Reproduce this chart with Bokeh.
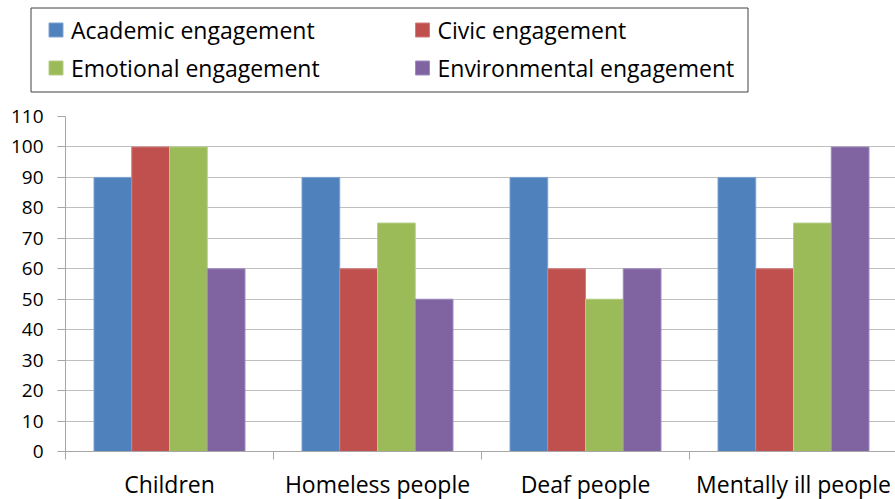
from bokeh.plotting import figure
from bokeh.models import Range1d, FixedTicker, ColumnDataSource
from bokeh.core.properties import value
from bokeh.embed import file_html
from bokeh.resources import INLINE

categories = ["Children", "Homeless people", "Deaf people", "Mentally ill people"]
series_names = ["Academic engagement", "Civic engagement",
                "Emotional engagement", "Environmental engagement"]
academic = [90, 90, 90, 90]
civic = [100, 60, 60, 60]
emotional = [100, 75, 50, 75]
environmental = [60, 50, 60, 100]
y_ticks = [0, 10, 20, 30, 40, 50, 60, 70, 80, 90, 100, 110]

colors = ["#4F81BD", "#C0504D", "#9BBB59", "#8064A2"]
edge_colors = ["#7FA3D3", "#D07F7C", "#B6CE86", "#A08BBE"]
FONT = "Open Sans"

W = 895
LEG_H = 100
MAIN_H = 366
LAB_H = 33

# ---------------- legend figure ----------------
leg = figure(width=W, height=LEG_H, output_backend="svg", toolbar_location=None,
             x_range=Range1d(0, W), y_range=Range1d(LEG_H, 0),
             min_border=0, outline_line_color=None)
leg.axis.visible = False
leg.grid.visible = False
leg.quad(left=[30.5], right=[747.5], top=[7.5], bottom=[91.5],
         fill_color=None, line_color="#404040", line_width=1)
col_x = [55.5, 422.0]
row_y = [29.5, 67.5]
sq_x, sq_y, tx_x = [], [], []
for i in range(4):
    c, r = i % 2, i // 2
    sq_x.append(col_x[c]); sq_y.append(row_y[r]); tx_x.append(col_x[c] + 15)
leg.rect(x=sq_x, y=sq_y, width=14, height=14, fill_color=colors, line_color=edge_colors)
leg.text(x=tx_x, y=sq_y, text=series_names, text_font=value(FONT),
         text_font_size="23px", text_baseline="middle", text_align="left",
         text_color="#000000")

# ---------------- main chart ----------------
CAT_W = 208.0
LEFT = 65
frame_w = W - LEFT
x_end = frame_w / CAT_W
p = figure(width=W, height=MAIN_H, output_backend="svg", toolbar_location=None,
           x_range=Range1d(0, x_end), y_range=Range1d(0, 110),
           min_border_left=LEFT, min_border_right=0, min_border_top=16,
           min_border_bottom=15, outline_line_color=None)

bar_w = 0.1815
offsets = [-1.5, -0.5, 0.5, 1.5]
all_series = [academic, civic, emotional, environmental]
for k, vals in enumerate(all_series):
    xs = [i + 0.5 + offsets[k] * bar_w for i in range(len(categories))]
    src = ColumnDataSource(dict(x=xs, top=vals))
    p.vbar(x="x", top="top", bottom=0, width=bar_w, source=src,
           fill_color=colors[k], line_color=edge_colors[k], line_width=1)

# y axis
p.yaxis.ticker = FixedTicker(ticks=y_ticks)
p.yaxis.major_tick_out = 8
p.yaxis.major_tick_in = 0
p.yaxis.minor_tick_out = 0
p.yaxis.minor_tick_in = 0
p.yaxis.axis_line_color = "#A6A6A6"
p.yaxis.major_tick_line_color = "#A6A6A6"
p.yaxis.major_label_text_font = FONT
p.yaxis.major_label_text_font_size = "19px"
p.yaxis.major_label_text_color = "#000000"
p.yaxis.major_label_standoff = 14

# x axis: line + category boundary ticks only (labels drawn in strip below)
p.xaxis.ticker = FixedTicker(ticks=[], minor_ticks=list(range(len(categories) + 1)))
p.xaxis.major_label_standoff = 0
p.xaxis.major_tick_out = 0
p.xaxis.major_tick_in = 0
p.xaxis.minor_tick_out = 8
p.xaxis.minor_tick_in = 0
p.xaxis.minor_tick_line_color = "#A6A6A6"
p.xaxis.axis_line_color = "#A6A6A6"

p.xgrid.visible = False
p.ygrid.ticker = FixedTicker(ticks=y_ticks)
p.ygrid.grid_line_color = "#BFBFBF"
p.ygrid.grid_line_width = 1

# ---------------- category label strip ----------------
lab = figure(width=W, height=LAB_H, output_backend="svg", toolbar_location=None,
             x_range=Range1d(0, x_end), y_range=Range1d(LAB_H, 0),
             min_border_left=LEFT, min_border_right=0, min_border_top=0,
             min_border_bottom=0, outline_line_color=None)
lab.axis.visible = False
lab.grid.visible = False
centers = [i + 0.5 for i in range(len(categories))]
lab.text(x=centers, y=[17.3] * len(categories), text=categories,
         text_font=value(FONT), text_font_size="23px", text_align="center",
         text_baseline="middle", text_color="#000000")

open("out.html", "w").write(file_html([leg, p, lab], INLINE))
